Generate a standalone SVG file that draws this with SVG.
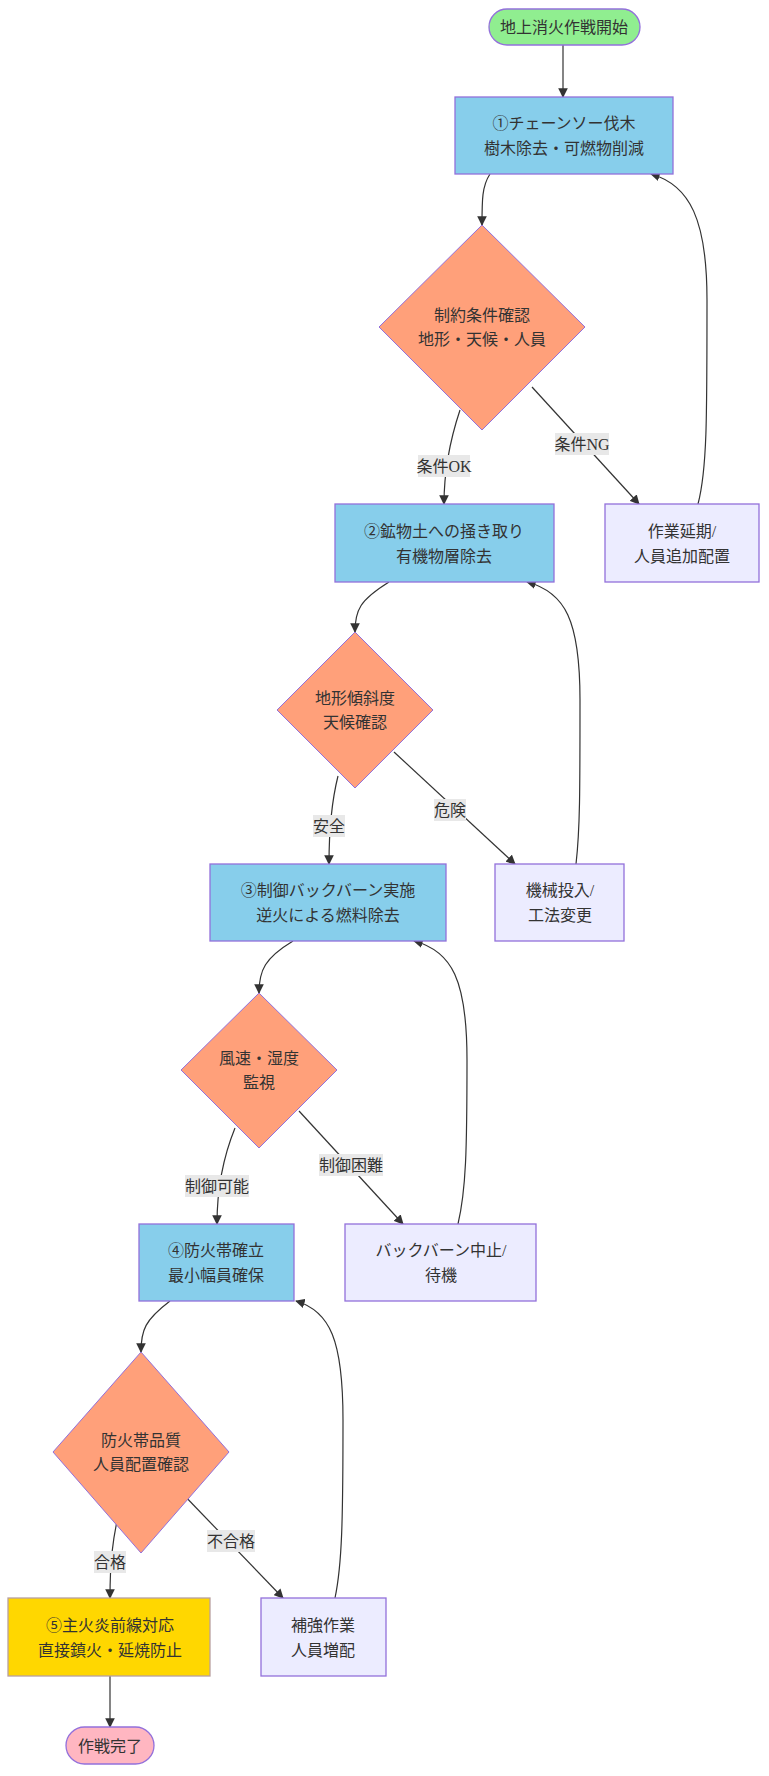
<svg xmlns="http://www.w3.org/2000/svg" width="769" height="1776" viewBox="0 0 769 1776">
<style>
text{font-family:"Liberation Serif","Noto Sans CJK JP",serif;font-size:16px;fill:#333;text-anchor:middle;dominant-baseline:central}
.proc{fill:#87ceeb;stroke:#9370db;stroke-width:1.3}
.alt{fill:#ececff;stroke:#9370db;stroke-width:1.3}
.dec{fill:#ffa07a;stroke:#9370db;stroke-width:1}
.e{fill:none;stroke:#333;stroke-width:1.2;marker-end:url(#a)}
.lb{fill:#e8e8e8}
</style>
<defs><marker id="a" viewBox="0 0 10 10" refX="9" refY="5" markerWidth="8" markerHeight="8" orient="auto"><path d="M0,0L10,5L0,10z" fill="#333"/></marker></defs>
<g id="connectors">
<path class="e" d="M563,45V97"/>
<path class="e" d="M490,174C482,186 482,200 482,225"/>
<path class="e" d="M460,410C450,440 444,470 444,504"/>
<path class="e" d="M532,387L639,504"/>
<path class="e" d="M698,504C707,470 707,420 707,300C707,220 690,185 651,174"/>
<path class="e" d="M389,582C360,600 355,610 355,632"/>
<path class="e" d="M338,776C332,800 329,830 329,864"/>
<path class="e" d="M394,752L515,864"/>
<path class="e" d="M576,864C580,830 580,790 580,700C580,620 565,592 527,582"/>
<path class="e" d="M293,941C265,958 259,970 259,993"/>
<path class="e" d="M235,1128C222,1160 217,1190 217,1224"/>
<path class="e" d="M299,1111L403,1224"/>
<path class="e" d="M458,1224C466,1190 467,1150 467,1060C467,980 452,951 414,941"/>
<path class="e" d="M170,1301C145,1320 141,1330 141,1352"/>
<path class="e" d="M120,1508C112,1540 110,1565 110,1598"/>
<path class="e" d="M180,1491L283,1598"/>
<path class="e" d="M335,1598C342,1565 343,1520 343,1420C343,1340 330,1311 296,1301"/>
<path class="e" d="M110,1676V1727"/>
<rect class="lb" x="418" y="455" width="52" height="22"/><text x="444" y="466">条件OK</text>
<rect class="lb" x="555" y="433" width="54" height="22"/><text x="582" y="444">条件NG</text>
<rect class="lb" x="313" y="815" width="32" height="22"/><text x="329" y="826">安全</text>
<rect class="lb" x="434" y="799" width="32" height="22"/><text x="450" y="810">危険</text>
<rect class="lb" x="185" y="1175" width="64" height="22"/><text x="217" y="1186">制御可能</text>
<rect class="lb" x="319" y="1154" width="64" height="22"/><text x="351" y="1165">制御困難</text>
<rect class="lb" x="94" y="1551" width="32" height="22"/><text x="110" y="1562">合格</text>
<rect class="lb" x="207" y="1530" width="48" height="22"/><text x="231" y="1541">不合格</text>
</g>
<g id="start"><rect x="489" y="9" width="151" height="36" rx="18" fill="#90ee90" stroke="#9370db" stroke-width="1.3"/><text x="564" y="27">地上消火作戦開始</text></g>
<g id="step1"><rect class="proc" x="455" y="97" width="218" height="77"/><text x="564" y="123">①チェーンソー伐木</text><text x="564" y="148">樹木除去・可燃物削減</text></g>
<g id="check1"><polygon class="dec" points="482,225 585,327 482,430 379,327"/><text x="482" y="315">制約条件確認</text><text x="482" y="339">地形・天候・人員</text></g>
<g id="step2"><rect class="proc" x="335" y="504" width="219" height="78"/><text x="444" y="531">②鉱物土への掻き取り</text><text x="444" y="556">有機物層除去</text></g>
<g id="delay"><rect class="alt" x="605" y="504" width="154" height="78"/><text x="682" y="531">作業延期/</text><text x="682" y="556">人員追加配置</text></g>
<g id="check2"><polygon class="dec" points="355,632 433,710 355,788 277,710"/><text x="355" y="698">地形傾斜度</text><text x="355" y="722">天候確認</text></g>
<g id="step3"><rect class="proc" x="210" y="864" width="236" height="77"/><text x="328" y="890">③制御バックバーン実施</text><text x="328" y="915">逆火による燃料除去</text></g>
<g id="machine"><rect class="alt" x="495" y="864" width="129" height="77"/><text x="560" y="890">機械投入/</text><text x="560" y="915">工法変更</text></g>
<g id="check3"><polygon class="dec" points="259,993 337,1070 259,1148 181,1070"/><text x="259" y="1058">風速・湿度</text><text x="259" y="1082">監視</text></g>
<g id="step4"><rect class="proc" x="139" y="1224" width="155" height="77"/><text x="216" y="1250">④防火帯確立</text><text x="216" y="1275">最小幅員確保</text></g>
<g id="stop"><rect class="alt" x="345" y="1224" width="191" height="77"/><text x="441" y="1250">バックバーン中止/</text><text x="441" y="1275">待機</text></g>
<g id="check4"><polygon class="dec" points="141,1352 229,1452 141,1553 53,1452"/><text x="141" y="1440">防火帯品質</text><text x="141" y="1464">人員配置確認</text></g>
<g id="step5"><rect x="8" y="1598" width="202" height="78" fill="#ffd700" stroke="#b8a0a0" stroke-width="1.3"/><text x="110" y="1625">⑤主火炎前線対応</text><text x="110" y="1650">直接鎮火・延焼防止</text></g>
<g id="reinforce"><rect class="alt" x="261" y="1598" width="125" height="78"/><text x="323" y="1625">補強作業</text><text x="323" y="1650">人員増配</text></g>
<g id="end"><rect x="66" y="1727" width="88" height="37" rx="18.5" fill="#ffb6c1" stroke="#9370db" stroke-width="1.3"/><text x="110" y="1746">作戦完了</text></g>
</svg>
